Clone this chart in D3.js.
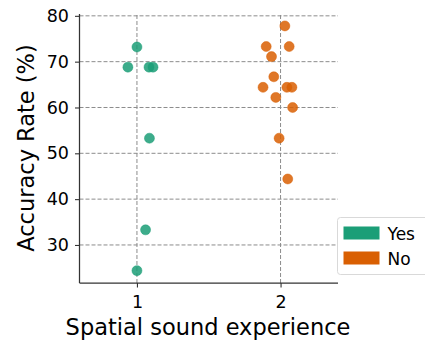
<!DOCTYPE html>
<html>
<head>
<meta charset="utf-8">
<script src="https://cdn.jsdelivr.net/npm/d3@7"></script>
<style>
  body { margin: 0; background: #fff; }
  svg text { font-family: "DejaVu Sans", sans-serif; fill: #000; }
</style>
</head>
<body>
<div id="chart"></div>
<script>
// data
var groups = ["Yes", "No"]
var colors = ["#1b9e77", "#d95f02"]
var yesX = [1.0, 0.937, 1.084, 1.112, 1.087, 1.06, 1.0]
var yesY = [73.2, 68.8, 68.8, 68.8, 53.3, 33.3, 24.4]
var noX = [2.03, 1.90, 2.06, 1.937, 1.953, 1.878, 2.044, 2.079, 1.967, 2.084, 1.99, 2.05]
var noY = [77.8, 73.3, 73.3, 71.1, 66.7, 64.4, 64.4, 64.4, 62.2, 60.0, 53.3, 44.4]
var xTicks = [1, 2]
var yTicks = [30, 40, 50, 60, 70, 80]

var width = 425, height = 343
var margin = { top: 14, right: 87, bottom: 60, left: 79.5 }

var svg = d3.select('#chart').append('svg')
  .attr('width', width)
  .attr('height', height)

var x = d3.scaleLinear().domain([0.6, 2.4]).range([margin.left, width - margin.right])
var y = d3.scaleLinear().domain([21.7, 80.4]).range([height - margin.bottom, margin.top])

// grid
var grid = svg.append('g')
grid.selectAll('line.gy').data(yTicks).enter().append('line')
  .attr('x1', x(0.6)).attr('x2', x(2.4))
  .attr('y1', d => y(d)).attr('y2', d => y(d))
  .attr('stroke', '#8c8c8c').attr('stroke-width', 1).attr('stroke-dasharray', '4,2')
grid.selectAll('line.gx').data(xTicks).enter().append('line')
  .attr('x1', d => x(d)).attr('x2', d => x(d))
  .attr('y1', y(21.7)).attr('y2', y(80.4))
  .attr('stroke', '#8c8c8c').attr('stroke-width', 1).attr('stroke-dasharray', '4,2')

// axes
var yAxis = svg.append('g')
  .attr('transform', 'translate(' + margin.left + ',0)')
  .call(d3.axisLeft(y).tickValues(yTicks).tickFormat(d3.format('d')).tickSize(4.5).tickPadding(6))
var xAxis = svg.append('g')
  .attr('transform', 'translate(0,' + (height - margin.bottom) + ')')
  .call(d3.axisBottom(x).tickValues(xTicks).tickFormat(d3.format('d')).tickSize(4.5).tickPadding(8))

;[xAxis, yAxis].forEach(function (a) {
  a.selectAll('text').style('font-size', '17.5px').attr('fill', '#000')
  a.selectAll('line').attr('stroke', '#333').attr('stroke-width', 1.1)
  a.select('.domain').attr('stroke', '#333').attr('stroke-width', 1.25)
})
xAxis.select('.domain').attr('d', 'M' + x(0.6) + ',0H' + x(2.4))
yAxis.select('.domain').attr('d', 'M0,' + y(21.7) + 'V' + y(80.4))

// points
var series = [yesX.map((v, i) => [v, yesY[i]]), noX.map((v, i) => [v, noY[i]])]
series.forEach(function (pts, k) {
  svg.append('g').selectAll('circle').data(pts).enter().append('circle')
    .attr('cx', d => x(d[0]))
    .attr('cy', d => y(d[1]))
    .attr('r', 5)
    .attr('fill', colors[k])
    .attr('fill-opacity', 0.85)
    .attr('stroke', colors[k])
    .attr('stroke-opacity', 0.6)
    .attr('stroke-width', 0.8)
})

// labels
svg.append('text')
  .attr('x', 208)
  .attr('y', 335)
  .attr('text-anchor', 'middle')
  .style('font-size', '22.5px')
  .text('Spatial sound experience')
svg.append('text')
  .attr('transform', 'translate(34,' + 148 + ') rotate(-90)')
  .attr('text-anchor', 'middle')
  .style('font-size', '22.5px')
  .text('Accuracy Rate (%)')

// legend
var lg = svg.append('g').attr('transform', 'translate(337.5,217.5)')
lg.append('rect')
  .attr('width', 95).attr('height', 57).attr('rx', 3)
  .attr('fill', '#fff').attr('fill-opacity', 0.8)
  .attr('stroke', '#d9d9d9').attr('stroke-width', 1)
groups.forEach(function (g, i) {
  lg.append('rect')
    .attr('x', 6).attr('y', 9 + i * 25)
    .attr('width', 36).attr('height', 13)
    .attr('fill', colors[i])
  lg.append('text')
    .attr('x', 50).attr('y', 22.5 + i * 25)
    .style('font-size', '17px')
    .text(g)
})
</script>
</body>
</html>
